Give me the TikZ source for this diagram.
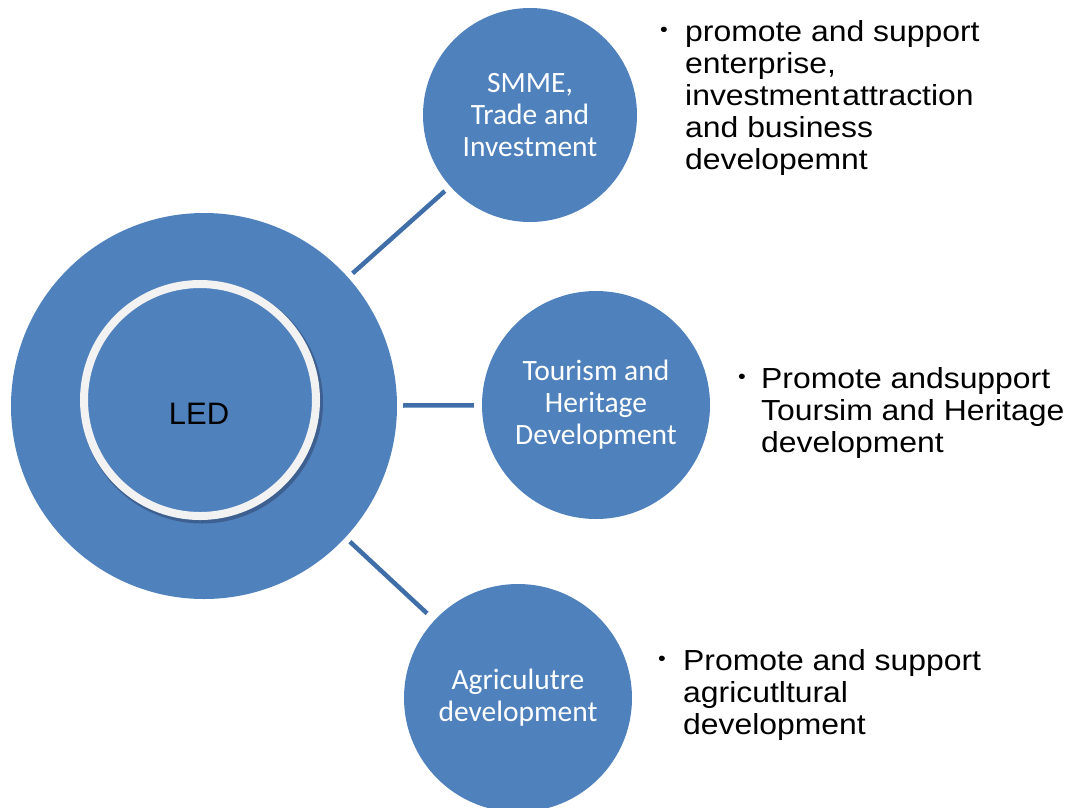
\documentclass[tikz,border=0pt]{standalone}
\usepackage{fontspec}
\setmainfont{Liberation Sans}
\newfontfamily\calib{Carlito}
\newfontfamily\arialx[FakeStretch=1.1]{Liberation Sans}
\definecolor{cblue}{HTML}{4F81BD}
\definecolor{lblue}{HTML}{3F6EA8}
\definecolor{ringc}{HTML}{F2F2F2}
\definecolor{shad}{HTML}{3E6090}
\newcommand{\bult}{\raisebox{5pt}{\fontsize{20}{20}\selectfont\textbullet}}
\begin{document}
\begin{tikzpicture}[x=1pt,y=-1pt,
  topic/.style={circle, fill=cblue, inner sep=0pt, minimum size=#1, text=white,
    font=\calib\fontsize{29.5}{32}\selectfont, align=center},
  link/.style={draw=lblue, line width=4.5pt},
  bultext/.style={anchor=base west, inner sep=0pt, font=\arialx\fontsize{29}{32}\selectfont}]
\clip (0,0) rectangle (1069,807);
\useasboundingbox (0,0) rectangle (1069,807);
% big circle
\node[topic=386pt] (led) at (204,406) {};
\fill[shad] (202,402.5) circle (121);
\node[circle, fill=cblue, draw=ringc, line width=8pt, inner sep=0pt, minimum size=232pt] (ledin) at (200,400) {};
\node[font=\fontsize{31}{31}\selectfont, text=black, inner sep=0pt] (ledtext) at (199,414) {LED};
% satellite circles
\node[topic=214pt] (smme) at (530,115) {SMME,\\Trade and\\Investment};
\node[topic=228pt] (tour) at (596,405) {Tourism and\\Heritage\\Development};
\node[topic=228pt] (agri) at (518,698) {Agriculutre\\development};
% connectors
\draw[link, shorten <=6pt, shorten >=7pt] (led) -- (smme);
\draw[link, shorten <=6pt, shorten >=8pt] (led) -- (tour);
\draw[link, shorten <=6pt, shorten >=10pt] (led) -- (agri);
% bullet texts
\node[bultext] (b1) at (660,41) {\begin{tabular}[t]{@{}p{25pt}@{}l@{}}\bult & promote and support\\ & enterprise,\\ & {\spaceskip=3pt investment attraction}\\ & and business\\ & developemnt\end{tabular}};
\node[bultext] (b2) at (738,388) {\begin{tabular}[t]{@{}p{23pt}@{}l@{}}\bult & Promote andsupport\\ & Toursim and Heritage\\ & development\end{tabular}};
\node[bultext] (b3) at (658,670) {\begin{tabular}[t]{@{}p{25pt}@{}l@{}}\bult & Promote and support\\ & agricutltural\\ & development\end{tabular}};
\end{tikzpicture}
\end{document}
